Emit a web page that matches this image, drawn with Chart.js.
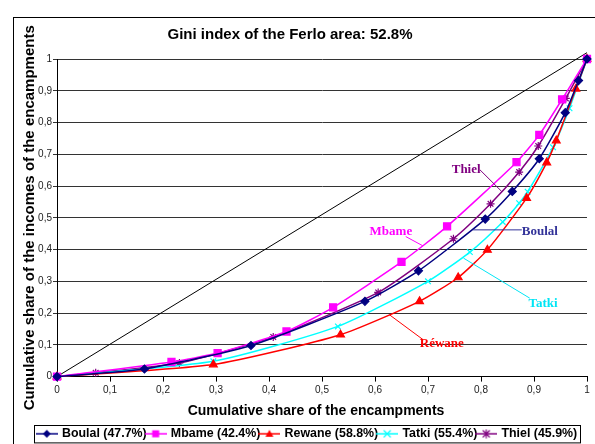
<!DOCTYPE html>
<html>
<head>
<meta charset="utf-8">
<script src="https://cdn.jsdelivr.net/npm/chart.js@4.4.1/dist/chart.umd.min.js"></script>
<style>
  body { margin: 0; background: #fff; overflow: hidden; width: 595px; height: 444px; position: relative; }
  #frame { position: absolute; left: 13px; top: 17px; width: 700px; height: 600px; border: 1px solid #000; }
  #wrap { position: absolute; left: 0; top: 0; width: 595px; height: 450px; }
</style>
</head>
<body>
<div id="frame"></div>
<div id="wrap"><canvas id="lorenz" width="595" height="450"></canvas></div>
<script>
const seriesNames = ['Boulal (47.7%)', 'Mbame (42.4%)', 'Rewane (58.8%)', 'Tatki (55.4%)', 'Thiel (45.9%)'];

const boulalX = [0, 0.165, 0.366, 0.581, 0.682, 0.808, 0.859, 0.91, 0.959, 0.984, 1];
const boulalY = [0, 0.024, 0.098, 0.237, 0.333, 0.496, 0.583, 0.686, 0.831, 0.932, 1];
const mbameX = [0, 0.216, 0.303, 0.433, 0.521, 0.65, 0.736, 0.867, 0.91, 0.953, 1];
const mbameY = [0, 0.046, 0.074, 0.142, 0.218, 0.361, 0.473, 0.675, 0.761, 0.873, 1];
const rewaneX = [0, 0.295, 0.535, 0.684, 0.757, 0.812, 0.886, 0.924, 0.942, 0.979, 1];
const rewaneY = [0, 0.038, 0.132, 0.237, 0.312, 0.399, 0.562, 0.674, 0.743, 0.906, 1];
const tatkiX = [0, 0.295, 0.53, 0.70, 0.779, 0.841, 0.872, 0.888, 0.936, 0.967, 1];
const tatkiY = [0, 0.048, 0.158, 0.30, 0.392, 0.487, 0.546, 0.582, 0.722, 0.845, 1];
const thielX = [0, 0.073, 0.231, 0.408, 0.606, 0.748, 0.818, 0.872, 0.908, 0.96, 1];
const thielY = [0, 0.012, 0.043, 0.125, 0.265, 0.434, 0.544, 0.644, 0.726, 0.876, 1];

// equality line (drawn slightly past 1 like the original)
const diagX = [0, 1];
const diagY = [0, 1.02];

// callout labels on the curves, in data units
const calloutText = ['Thiel', 'Boulal', 'Mbame', 'Tatki', 'Réwane'];
const calloutX = [0.772, 0.911, 0.630, 0.917, 0.726];
const calloutY = [0.651, 0.457, 0.456, 0.230, 0.104];
const leaderX1 = [0.798, 0.785, 0.658, 0.767, 0.627];
const leaderY1 = [0.651, 0.462, 0.441, 0.373, 0.195];
const leaderX2 = [0.839, 0.877, 0.690, 0.892, 0.691];
const leaderY2 = [0.583, 0.462, 0.412, 0.247, 0.116];

const lineColors = ['#000080', '#FF00FF', '#FF0000', '#00FFFF', '#800080'];
const calloutColors = ['#800080', '#333399', '#FF00FF', '#00E5F5', '#FF0000'];
const markers = ['rectRot', 'rect', 'triangle', 'crossRot', 'star'];
const markerSize = [4, 5, 4.5, 4, 4];

const allX = [boulalX, mbameX, rewaneX, tatkiX, thielX];
const allY = [boulalY, mbameY, rewaneY, tatkiY, thielY];

const FONT = '"Liberation Sans", Arial, sans-serif';

function makeIcon(color, shape) {
  const c = document.createElement('canvas');
  c.width = 22; c.height = 10;
  const g = c.getContext('2d');
  g.strokeStyle = color; g.fillStyle = color; g.lineWidth = 1.5;
  g.beginPath(); g.moveTo(0, 5); g.lineTo(22, 5); g.stroke();
  const cx = 11, cy = 5;
  g.beginPath();
  if (shape === 'rectRot') {
    g.moveTo(cx, cy - 4); g.lineTo(cx + 4, cy); g.lineTo(cx, cy + 4); g.lineTo(cx - 4, cy); g.closePath(); g.fill();
  } else if (shape === 'rect') {
    g.fillRect(cx - 3.5, cy - 3.5, 7, 7);
  } else if (shape === 'triangle') {
    g.moveTo(cx, cy - 4); g.lineTo(cx + 4, cy + 3); g.lineTo(cx - 4, cy + 3); g.closePath(); g.fill();
  } else {
    g.lineWidth = 1.2;
    g.moveTo(cx - 3.5, cy - 3.5); g.lineTo(cx + 3.5, cy + 3.5);
    g.moveTo(cx + 3.5, cy - 3.5); g.lineTo(cx - 3.5, cy + 3.5);
    if (shape === 'star') { g.moveTo(cx, cy - 4.5); g.lineTo(cx, cy + 4.5); }
    g.stroke();
  }
  return c;
}
const legendIcons = lineColors.map((c, i) => makeIcon(c, markers[i]));

const datasets = seriesNames.map((name, i) => ({
  label: name,
  data: allX[i].map((x, j) => ({ x: x, y: allY[i][j] })),
  borderColor: lineColors[i],
  backgroundColor: lineColors[i],
  borderWidth: 1.5,
  pointStyle: markers[i],
  pointRadius: markerSize[i],
  pointBorderWidth: 1.2,
  tension: 0.2,
  clip: false
}));
datasets.push({
  label: 'equality',
  data: diagX.map((x, j) => ({ x: x, y: diagY[j] })),
  borderColor: '#000',
  borderWidth: 1,
  pointRadius: 0,
  clip: false
});

const tickFmt = v => String(Math.round(v * 10) / 10).replace('.', ',');

const decor = {
  id: 'decor',
  afterDatasetsDraw(chart) {
    const { ctx, scales: { x, y } } = chart;
    ctx.save();
    ctx.lineWidth = 1;
    calloutText.forEach((t, i) => {
      ctx.strokeStyle = calloutColors[i];
      ctx.beginPath();
      ctx.moveTo(x.getPixelForValue(leaderX1[i]), y.getPixelForValue(leaderY1[i]));
      ctx.lineTo(x.getPixelForValue(leaderX2[i]), y.getPixelForValue(leaderY2[i]));
      ctx.stroke();
      ctx.fillStyle = calloutColors[i];
      ctx.font = 'bold 13px "Liberation Serif", "Times New Roman", serif';
      ctx.textAlign = 'center';
      ctx.textBaseline = 'middle';
      ctx.fillText(t, x.getPixelForValue(calloutX[i]), y.getPixelForValue(calloutY[i]));
    });
    ctx.restore();
  },
  afterDraw(chart) {
    const { ctx, chartArea, legend } = chart;
    ctx.save();
    ctx.fillStyle = '#000';
    ctx.textAlign = 'center';
    ctx.textBaseline = 'middle';
    ctx.font = 'bold 15px ' + FONT;
    ctx.fillText('Gini index of the Ferlo area: 52.8%', 290, 35);
    ctx.font = 'bold 14px ' + FONT;
    ctx.fillText('Cumulative share of the encampments', 316, 411);
    ctx.font = 'bold 15px ' + FONT;
    ctx.translate(30, (chartArea.top + chartArea.bottom) / 2);
    ctx.rotate(-Math.PI / 2);
    ctx.fillText('Cumulative share of the incomes of the encampments', 0, 0);
    ctx.restore();
    // legend frame
    const hb = legend.legendHitBoxes;
    if (hb && hb.length) {
      const l = Math.min(...hb.map(b => b.left)) - 4;
      const r = Math.max(...hb.map(b => b.left + b.width)) + 3;
      const t = hb[0].top - 2.5;
      ctx.save();
      ctx.strokeStyle = '#000';
      ctx.lineWidth = 1;
      ctx.strokeRect(Math.round(l) + 0.5, Math.round(t) + 0.5, Math.round(r - l), hb[0].height + 5);
      ctx.restore();
    }
  }
};

new Chart(document.getElementById('lorenz'), {
  type: 'line',
  data: { datasets: datasets },
  plugins: [decor],
  options: {
    responsive: false,
    animation: false,
    layout: { padding: { left: 28, right: 8, top: 59, bottom: 0 } },
    plugins: {
      title: { display: false },
      tooltip: { enabled: false },
      legend: {
        position: 'bottom',
        labels: {
          usePointStyle: true,
          pointStyleWidth: 18,
          padding: 0,
          color: '#000',
          font: { family: FONT, size: 12.4, weight: 'bold' },
          filter: item => item.datasetIndex < seriesNames.length,
          generateLabels(chart) {
            return Chart.defaults.plugins.legend.labels.generateLabels(chart).map(item => {
              item.pointStyle = legendIcons[item.datasetIndex];
              return item;
            });
          }
        }
      }
    },
    scales: {
      x: {
        type: 'linear',
        min: 0, max: 1,
        ticks: { stepSize: 0.1, callback: tickFmt, color: '#222', font: { family: FONT, size: 10 }, padding: 3, maxRotation: 0 },
        grid: { drawOnChartArea: false, color: '#000', tickLength: 5 },
        border: { color: '#000', width: 1 },
        afterFit(scale) { scale.height = 51; }
      },
      y: {
        min: 0, max: 1,
        ticks: { stepSize: 0.1, callback: tickFmt, color: '#222', font: { family: FONT, size: 10 }, padding: 1 },
        grid: { color: '#333', tickLength: 4 },
        border: { color: '#000', width: 1 },
        afterFit(scale) { scale.width = 29; }
      }
    }
  }
});
</script>
</body>
</html>
